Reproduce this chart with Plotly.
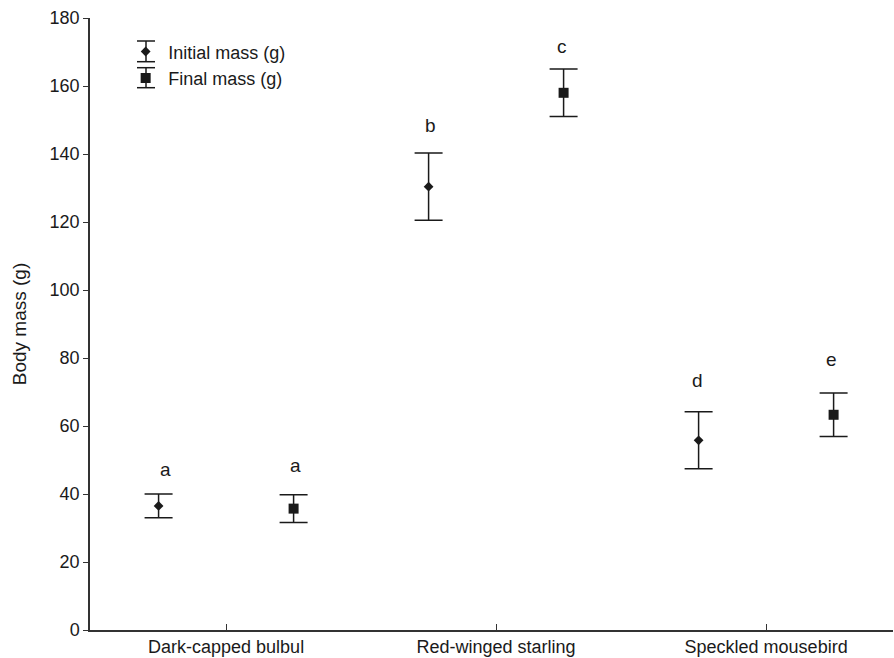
import plotly.graph_objects as go

categories = ["Dark-capped bulbul", "Red-winged starling", "Speckled mousebird"]
initial_mass = [36.5, 130.4, 55.8]
initial_err = [3.5, 9.9, 8.4]
final_mass = [35.7, 158.0, 63.3]
final_err = [4.1, 7.0, 6.4]
initial_letters = ["a", "b", "d"]
final_letters = ["a", "c", "e"]
initial_letter_y = [47.1, 148.5, 73.3]
final_letter_y = [48.5, 171.6, 79.6]
y_ticks = [0, 20, 40, 60, 80, 100, 120, 140, 160, 180]

FONT = "Liberation Sans, Arial, sans-serif"
INK = "#1a1a1a"
offset = 0.25
x_pos = list(range(len(categories)))
x_init = [x - offset for x in x_pos]
x_final = [x + offset for x in x_pos]
initial_letter_shift = [7, 2, -1]
final_letter_shift = [2, -2, -2]

W, H = 894, 658
ML, MR, MT, MB = 90, 1, 18, 28
PW, PH = W - ML - MR, H - MT - MB

fig = go.Figure()
fig.add_trace(go.Scatter(
    x=x_init, y=initial_mass, mode="markers", name="Initial mass (g)",
    marker=dict(symbol="diamond", size=7.5, color=INK),
    error_y=dict(type="data", array=initial_err, visible=True, color=INK, thickness=1.5, width=14),
))
fig.add_trace(go.Scatter(
    x=x_final, y=final_mass, mode="markers", name="Final mass (g)",
    marker=dict(symbol="square", size=10, color=INK),
    error_y=dict(type="data", array=final_err, visible=True, color=INK, thickness=1.5, width=14),
))

for xs, labs, ys, shifts in [(x_init, initial_letters, initial_letter_y, initial_letter_shift),
                             (x_final, final_letters, final_letter_y, final_letter_shift)]:
    for x, lab, y, s in zip(xs, labs, ys, shifts):
        fig.add_annotation(x=x, y=y, text=lab, showarrow=False, xshift=s,
                           font=dict(family=FONT, size=19, color=INK),
                           xanchor="center", yanchor="middle")

# error-bar glyphs for the legend entries (legend decoration, pixel based)
def px_x(p):
    return (p - ML) / PW

def px_y(p):
    return (H - MB - p) / PH

legend_bars = [(146, 41, 61.7), (146, 67.7, 87.7)]
for cx, top, bot in legend_bars:
    line = dict(color=INK, width=1.5)
    fig.add_shape(type="line", xref="paper", yref="paper", x0=px_x(cx), x1=px_x(cx),
                  y0=px_y(top), y1=px_y(bot), line=line)
    for yy in (top, bot):
        fig.add_shape(type="line", xref="paper", yref="paper", x0=px_x(cx - 9), x1=px_x(cx + 9),
                      y0=px_y(yy), y1=px_y(yy), line=line)

fig.update_layout(
    width=W, height=H,
    margin=dict(l=ML, r=MR, t=MT, b=MB, autoexpand=False),
    plot_bgcolor="white", paper_bgcolor="white",
    font=dict(family=FONT, size=18, color=INK),
    showlegend=True,
    legend=dict(x=0.0413, y=0.975, xanchor="left", yanchor="top",
                bgcolor="rgba(0,0,0,0)", font=dict(size=18, family=FONT, color=INK),
                itemwidth=35),
)
fig.update_xaxes(
    range=[-0.504, 2.47], tickmode="array", tickvals=x_pos, ticktext=categories,
    showgrid=False, zeroline=False, showline=True, linecolor="#333", linewidth=1.5,
    ticks="inside", ticklen=6, tickcolor="#333", tickwidth=1.2,
    tickfont=dict(size=18, family=FONT, color=INK), automargin=False,
)
fig.update_yaxes(
    range=[0, 180], tickmode="array", tickvals=y_ticks,
    showgrid=False, zeroline=False, showline=True, linecolor="#333", linewidth=1.5,
    ticks="outside", ticklen=5, tickcolor="#333", tickwidth=1.2,
    tickfont=dict(size=18, family=FONT, color=INK), automargin=False,
    title=dict(text="Body mass (g)", font=dict(size=19, family=FONT, color=INK), standoff=18),
)

fig.write_html("out.html", config={"displayModeBar": False},
               post_script="document.body.style.margin='0px';document.body.style.overflow='hidden';")
